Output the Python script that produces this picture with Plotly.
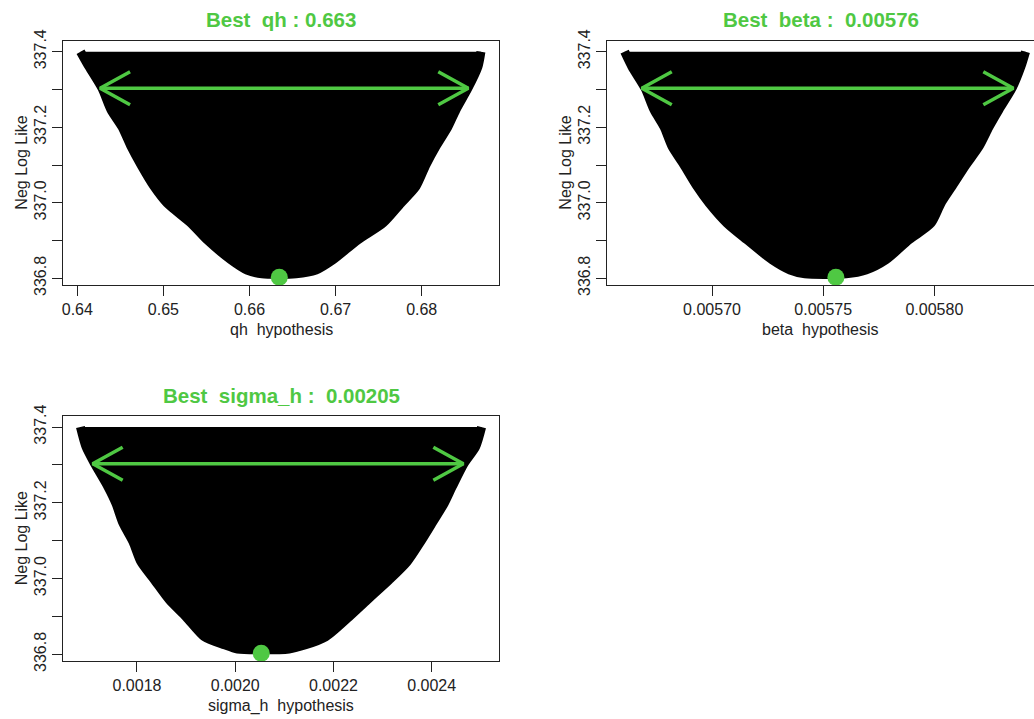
import plotly.graph_objects as go

# ---- data: envelope of the sampled likelihood cloud (point centres), per parameter ----
nll_levels = [337.400, 337.360, 337.303, 337.246, 337.201, 337.149, 337.100,
              337.043, 336.999, 336.946, 336.902, 336.849, 336.822, 336.812]

qh_left = [0.64037, 0.64136, 0.64287, 0.64391, 0.64519, 0.64624, 0.64740,
           0.64891, 0.65042, 0.65320, 0.65506, 0.65785, 0.65971, 0.66145]
qh_right = [0.68688, 0.68653, 0.68537, 0.68398, 0.68305, 0.68165, 0.68049,
            0.67933, 0.67759, 0.67550, 0.67260, 0.66969, 0.66772, 0.66540]

beta_left = [0.0056607, 0.0056640, 0.0056699, 0.0056739, 0.0056784, 0.0056820, 0.0056874,
             0.0056933, 0.0056987, 0.0057067, 0.0057157, 0.0057270, 0.0057351, 0.0057418]
beta_right = [0.0058410, 0.0058389, 0.0058349, 0.0058290, 0.0058246, 0.0058201, 0.0058142,
              0.0058079, 0.0058030, 0.0057985, 0.0057886, 0.0057782, 0.0057692, 0.0057603]

sigma_levels = [337.400, 337.348, 337.304, 337.242, 337.198, 337.146, 337.097,
                337.044, 336.996, 336.943, 336.899, 336.846, 336.825, 336.814]
sigma_left = [0.0016849, 0.0016961, 0.0017134, 0.0017409, 0.0017572, 0.0017715, 0.0017919,
              0.0018081, 0.0018356, 0.0018662, 0.0018998, 0.0019375, 0.0019782, 0.0020047]
sigma_right = [0.0025016, 0.0024894, 0.0024660, 0.0024416, 0.0024253, 0.0024008, 0.0023774,
               0.0023499, 0.0023132, 0.0022684, 0.0022318, 0.0021839, 0.0021432, 0.0021096]

# best estimates (minimum negative log likelihood)
best_nll = 336.803
best_qh = 0.66346
best_beta = 0.0057557
best_sigma = 0.002053

# likelihood interval bounds (drawn at best_nll + 0.5)
ci_qh = [0.64264, 0.68541]
ci_beta = [0.0056684, 0.0058355]
ci_sigma = [0.0017098, 0.0024644]
ci_delta = 0.5

# tick labels
qh_ticks = [0.64, 0.65, 0.66, 0.67, 0.68]
qh_ticktext = ["0.64", "0.65", "0.66", "0.67", "0.68"]
beta_ticks = [0.00570, 0.00575, 0.00580]
beta_ticktext = ["0.00570", "0.00575", "0.00580"]
sigma_ticks = [0.0018, 0.0020, 0.0022, 0.0024]
sigma_ticktext = ["0.0018", "0.0020", "0.0022", "0.0024"]
nll_ticks = [336.8, 336.9, 337.0, 337.1, 337.2, 337.3, 337.4]
nll_ticktext = ["336.8", "", "337.0", "", "337.2", "", "337.4"]

# ---- layout geometry ----
W, H = 1034, 719
GREEN = "#4FC843"
INK = "#222222"
FONT = "Liberation Sans, Arial, Helvetica, sans-serif"
NB = "\u00a0"

panels = [
    dict(key="", name="qh", best=best_qh, best_txt=f"Best{NB}{NB}qh : {best_qh:.3g}",
         left=qh_left, right=qh_right, levels=nll_levels, ci=ci_qh,
         xrange=[0.63837, 0.68898], ticks=qh_ticks, ticktext=qh_ticktext,
         box=(63.3, 499.0, 40.7, 285.0), mirror_y=True),
    dict(key="2", name="beta", best=best_beta, best_txt=f"Best{NB}{NB}beta :{NB}{NB}{best_beta:.3g}",
         left=beta_left, right=beta_right, levels=nll_levels, ci=ci_beta,
         xrange=[0.0056529, 0.0058448], ticks=beta_ticks, ticktext=beta_ticktext,
         box=(607.3, 1034.0, 40.7, 285.0), mirror_y=False),
    dict(key="3", name="sigma_h", best=best_sigma, best_txt=f"Best{NB}{NB}sigma_h :{NB}{NB}{best_sigma:.3g}",
         left=sigma_left, right=sigma_right, levels=sigma_levels, ci=ci_sigma,
         xrange=[0.00165, 0.002537], ticks=sigma_ticks, ticktext=sigma_ticktext,
         box=(63.3, 499.0, 416.0, 661.0), mirror_y=True),
]
yrange = [336.7823, 337.4291]

fig = go.Figure()
layout = dict(width=W, height=H, margin=dict(l=0, r=0, t=0, b=0, pad=0, autoexpand=False),
              paper_bgcolor="white", plot_bgcolor="white", showlegend=False,
              font=dict(family=FONT, color=INK))
annotations = []

for p in panels:
    k = p["key"]
    xa, ya = "x" + k, "y" + k
    x0, x1, y0, y1 = p["box"]

    # sampled points: filled envelope, thick outline gives the dot radius
    fig.add_trace(go.Scatter(
        x=p["left"] + p["right"][::-1], y=p["levels"] + p["levels"][::-1],
        mode="lines", fill="toself", fillcolor="black",
        line=dict(color="black", width=9, shape="spline", smoothing=0.7),
        xaxis=xa, yaxis=ya, hoverinfo="skip"))

    # interval arrow with open heads at both ends
    yci = best_nll + ci_delta
    px_per_x = (x1 - x0) / (p["xrange"][1] - p["xrange"][0])
    px_per_y = (y1 - y0) / (yrange[1] - yrange[0])
    hx, hy = 30 / px_per_x, 16.5 / px_per_y
    lo, hi = p["ci"]
    fig.add_trace(go.Scatter(
        x=[lo, hi, None, lo + hx, lo, lo + hx, None, hi - hx, hi, hi - hx],
        y=[yci, yci, None, yci + hy, yci, yci - hy, None, yci + hy, yci, yci - hy],
        mode="lines", line=dict(color=GREEN, width=3.5), xaxis=xa, yaxis=ya,
        hoverinfo="skip"))

    # best estimate
    fig.add_trace(go.Scatter(
        x=[p["best"]], y=[best_nll], mode="markers",
        marker=dict(color=GREEN, size=17), xaxis=xa, yaxis=ya))

    axis_common = dict(showgrid=False, zeroline=False, showline=True, linecolor=INK,
                       linewidth=1, ticks="outside", ticklen=10, tickwidth=1,
                       tickcolor=INK, automargin=False,
                       tickfont=dict(size=16, family=FONT, color=INK))
    layout["xaxis" + k] = dict(axis_common, domain=[x0 / W, x1 / W], range=p["xrange"],
                               tickmode="array", tickvals=p["ticks"], ticktext=p["ticktext"],
                               anchor=ya, mirror=True, ticklabelstandoff=0)
    layout["yaxis" + k] = dict(axis_common, domain=[1 - y1 / H, 1 - y0 / H], range=yrange,
                               tickmode="array", tickvals=nll_ticks, ticktext=nll_ticktext,
                               tickangle=-90, anchor=xa, mirror=p["mirror_y"],
                               ticklabelstandoff=0)

    cx = (x0 + min(x1, x0 + 435.7)) / 2
    annotations.append(dict(text=f"<b>{p['best_txt']}</b>", x=cx / W, y=1 - (y0 - 21.0) / H,
                            xref="paper", yref="paper", showarrow=False,
                            xanchor="center", yanchor="middle",
                            font=dict(size=20.5, color=GREEN, family=FONT)))
    annotations.append(dict(text=f"{p['name']}{NB}{NB}hypothesis", x=cx / W, y=1 - (y1 + 44.5) / H,
                            xref="paper", yref="paper", showarrow=False,
                            xanchor="center", yanchor="middle",
                            font=dict(size=16, color=INK, family=FONT)))
    annotations.append(dict(text="Neg Log Like", x=(x0 - 41.5) / W, y=1 - ((y0 + y1) / 2) / H,
                            xref="paper", yref="paper", showarrow=False, textangle=-90,
                            xanchor="center", yanchor="middle",
                            font=dict(size=16, color=INK, family=FONT)))

layout["annotations"] = annotations
fig.update_layout(**layout)
fig.write_html("out.html")
